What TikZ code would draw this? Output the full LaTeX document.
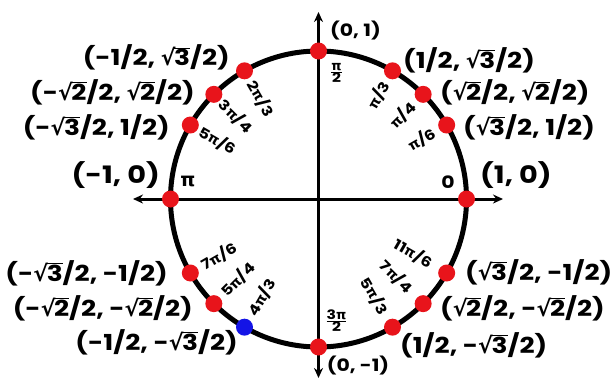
\documentclass[tikz,border=0pt]{standalone}
\usepackage{fontspec}
\setmainfont{Poppins}[FakeStretch=1.2]
\newfontfamily\grkfont{DejaVu Sans}
\usetikzlibrary{arrows.meta,positioning,calc}
\definecolor{DotRed}{HTML}{E8141B}
\definecolor{DotBlue}{HTML}{1414E6}
\newcommand{\PI}{{\grkfont\bfseries π}}
\newcommand{\sq}[1]{{\grkfont\bfseries √}\kern-.06em$\overline{\mbox{#1}}$}

\begin{document}
\begin{tikzpicture}[x=1pt,y=1pt,
  dot/.style={circle,fill=DotRed,minimum size=17pt,inner sep=0pt},
  coord/.style={font=\bfseries\fontsize{22}{22}\selectfont,inner sep=0pt},
  ang/.style={font=\bfseries\fontsize{14}{14}\selectfont,inner sep=0pt},
  axis/.style={line width=3pt,{Stealth[length=10pt,width=9pt]}-{Stealth[length=10pt,width=9pt]}}]
\useasboundingbox (-318.5,-182) rectangle (293.5,199);
\coordinate (xl) at (-185.5,0);
\coordinate (xr) at (184.5,0);
\coordinate (yb) at (0,-179);
\coordinate (yt) at (0,187);
\draw[axis] (xl) -- (xr);
\draw[axis] (yb) -- (yt);
\draw[line width=5pt] (0,0) circle (148);
\foreach \a in {0,30,45,60,90,120,135,150,180,210,225,270,300,315,330} {
  \node[dot] (d\a) at (\a:148) {};
}
\node[dot,fill=DotBlue] (d240) at (240:148) {};
% angle labels
\foreach \a/\r/\rot/\txt in {30/119/30/{\PI/6},45/119/45/{\PI/4},60/120/60/{\PI/3},
  120/116/-60/{2\PI/3},135/117/-45/{3\PI/4},150/117/-30/{5\PI/6},
  210/115/30/{7\PI/6},225/114/45/{5\PI/4},240/114/60/{4\PI/3},
  300/112/-60/{5\PI/3},315/110/-45/{7\PI/4},330/109/-30/{11\PI/6}} {
  \node[ang,rotate=\rot] (t\a) at (\a:\r) {\txt};
}
\node[ang,font=\bfseries\fontsize{13}{13}\selectfont] (t90) at (18,126) {$\frac{\mbox{\PI}}{\mbox{2}}$};
\node[ang,font=\bfseries\fontsize{13}{13}\selectfont] (t270) at (18,-122) {$\frac{\mbox{3\PI}}{\mbox{2}}$};
\node[ang,font=\fontsize{19}{19}\selectfont] (t180) at (-130.5,18) {\PI};
\node[ang,font=\bfseries\fontsize{17}{17}\selectfont] (t0) at (129.5,17) {0};
% coordinates
\foreach \n/\x/\y/\anc/\txt in {60/84.5/139/west/{(1/2, \sq{3}/2)},
  45/121.5/107/west/{(\sq{2}/2, \sq{2}/2)},
  30/144.5/72/west/{(\sq{3}/2, 1/2)},
  120/-88.5/141.5/east/{(-1/2, \sq{3}/2)},
  135/-123.5/107/east/{(-\sq{2}/2, \sq{2}/2)},
  150/-148.5/72/east/{(-\sq{3}/2, 1/2)},
  210/-150.5/-74/east/{(-\sq{3}/2, -1/2)},
  225/-125.5/-109/east/{(-\sq{2}/2, -\sq{2}/2)},
  240/-80.5/-143/east/{(-1/2, -\sq{3}/2)},
  330/146.5/-73/west/{(\sq{3}/2, -1/2)},
  315/121.5/-109/west/{(\sq{2}/2, -\sq{2}/2)},
  300/81.5/-146/west/{(1/2, -\sq{3}/2)}} {
  \node[coord,anchor=\anc] (c\n) at (\x,\y) {\txt};
}
\node[coord,font=\bfseries\fontsize{24}{24}\selectfont,anchor=west] (c0) at (161.5,24) {(1, 0)};
\node[coord,font=\bfseries\fontsize{24}{24}\selectfont,anchor=east] (c180) at (-158.5,24) {(-1, 0)};
\node[coord,font=\bfseries\fontsize{17}{17}\selectfont] (c90) at (37,168) {(0, 1)};
\node[coord,font=\bfseries\fontsize{17}{17}\selectfont] (c270) at (39.5,-167) {(0, -1)};
\end{tikzpicture}
\end{document}
